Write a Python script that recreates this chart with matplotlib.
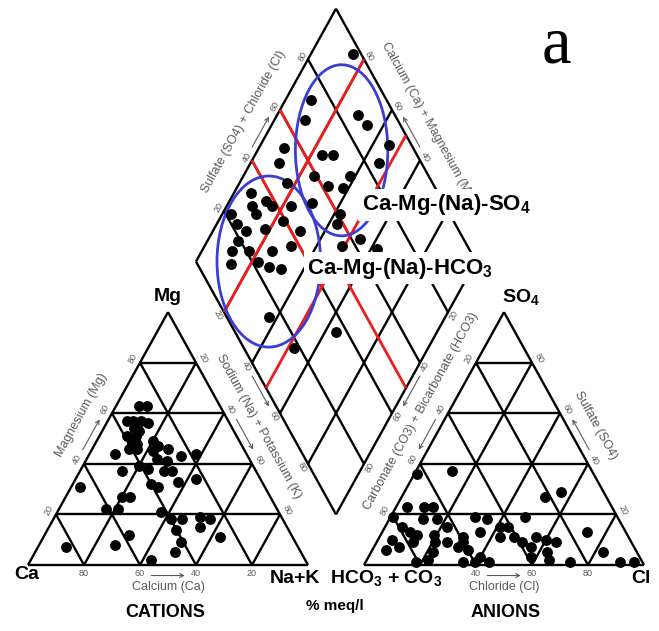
# Piper diagram: cations, anions and the central diamond
import matplotlib
matplotlib.use('Agg')
import matplotlib.pyplot as plt
from matplotlib.patches import Ellipse
import numpy as np

plt.rcParams['mathtext.fontset'] = 'custom'
plt.rcParams['mathtext.rm'] = 'Liberation Sans:bold'
plt.rcParams['mathtext.it'] = 'Liberation Sans:bold'
plt.rcParams['mathtext.bf'] = 'Liberation Sans:bold'

# ---- samples (% meq/l) ----
cat_mg = [63, 63, 57, 57, 57, 56, 54, 53, 51, 51, 48, 48, 49, 46, 46, 44, 47, 46, 45, 43,
          44, 42, 41, 39, 38, 37, 37, 37, 33, 34, 31, 32, 31, 27, 27, 22, 22, 21, 18, 18,
          19, 18, 12, 14, 15, 11, 7, 8, 9, 5, 2]
cat_nak = [8, 11, 7, 9, 12, 15, 11, 13, 10, 13, 13, 15, 20, 13, 16, 9, 23, 27, 22, 33,
           38, 25, 29, 20, 24, 15, 30, 33, 37, 43, 3, 28, 31, 20, 23, 17, 21, 37, 42, 46,
           52, 56, 30, 46, 54, 63, 10, 27, 50, 50, 43]

an_so4 = [36, 37, 23, 23, 23, 19, 18, 18, 19, 18, 19, 27, 29, 15, 13, 12, 10, 7, 9, 6,
          12, 15, 9, 9, 7, 11, 9, 6, 5, 1, 2, 1, 1, 3, 1, 13, 15, 15, 11, 11,
          9, 7, 11, 3, 5, 10, 9, 2, 1, 13, 5, 1, 1]
an_cl = [1, 13, 4, 10, 13, 1, 12, 17, 30, 35, 48, 51, 56, 6, 10, 13, 5, 9, 13, 5,
         19, 22, 21, 25, 30, 30, 31, 34, 22, 18, 22, 35, 39, 40, 44, 35, 41, 44, 43, 48,
         52, 56, 56, 58, 63, 60, 64, 65, 73, 73, 83, 91, 96]

dia_camg = [85, 91, 89, 71, 66, 54, 91, 90, 76, 72, 54, 75, 62, 83, 68, 62, 94, 91, 87, 88,
            84, 70, 77, 97, 93, 88, 89, 82, 77, 69, 58, 57, 46, 51, 38, 89, 83, 75, 69, 87,
            78, 73, 68, 63, 48, 36]
dia_so4cl = [97, 73, 67, 87, 88, 92, 54, 49, 66, 70, 85, 59, 72, 48, 62, 67, 33, 31, 37, 31,
             38, 53, 45, 22, 22, 24, 19, 31, 39, 43, 61, 58, 63, 55, 67, 15, 21, 29, 37, 12,
             22, 25, 29, 15, 18, 36]

# facies boundaries in the diamond: (Ca+Mg, SO4+Cl) start -> end
red_lines = [((80, 0), (80, 100)),
             ((50, 0), (50, 100)),
             ((50, 50), (0, 50)),
             ((100, 40), (50, 40)),
             ((100, 60), (50, 60))]

# sample groups: centre (Ca+Mg, SO4+Cl), width, height
groups = [((70, 74), 0.33, 0.586),
          ((74, 26), 0.37, 0.586)]

ticks = [20, 40, 60, 80]

H = np.sqrt(3) / 2
GAP = 0.2


def cat_xy(mg, nak):
    mg = np.asarray(mg) / 100.0
    nak = np.asarray(nak) / 100.0
    return nak + 0.5 * mg, H * mg


def an_xy(so4, cl):
    so4 = np.asarray(so4) / 100.0
    cl = np.asarray(cl) / 100.0
    return 1 + GAP + cl + 0.5 * so4, H * so4


def dia_xy(a, b):
    a = np.asarray(a) / 100.0
    b = np.asarray(b) / 100.0
    return 1 + GAP / 2 - 0.5 * a + 0.5 * b, GAP * H + H * a + H * b


fig = plt.figure(figsize=(6.59, 6.31), dpi=100)
ax = fig.add_axes([0, 0, 1, 1])
ax.set_xlim(-0.1, 2.2536)
ax.set_ylim(-0.226, 1.935)
ax.axis('off')


def seg(f, p0, p1, **kw):
    x0, y0 = f(*p0)
    x1, y1 = f(*p1)
    ax.plot([x0, x1], [y0, y1], solid_capstyle='butt', **kw)


grid = dict(color='black', lw=1.7, zorder=1)

#################################################################
# 1. grids, facies lines, groups
for v in [0] + ticks:
    seg(cat_xy, (v, 0), (v, 100 - v), **grid)
    seg(cat_xy, (0, v), (100 - v, v), **grid)
    seg(cat_xy, (0, 100 - v), (100 - v, 0), **grid)
    seg(an_xy, (v, 0), (v, 100 - v), **grid)
    seg(an_xy, (0, v), (100 - v, v), **grid)
    seg(an_xy, (0, 100 - v), (100 - v, 0), **grid)
for v in [0] + ticks + [100]:
    seg(dia_xy, (v, 0), (v, 100), **grid)
    seg(dia_xy, (0, v), (100, v), **grid)

for p0, p1 in red_lines:
    seg(dia_xy, p0, p1, color='#ee1c1c', lw=2.0, zorder=2)

for (ca, cb), w, h in groups:
    cx, cy = dia_xy(ca, cb)
    ax.add_patch(Ellipse((cx, cy), w, h, fill=False, ec='#3a3ed2', lw=2.0, zorder=3))

#################################################################
# 2. samples
ax.scatter(*cat_xy(cat_mg, cat_nak), s=46, c='black', zorder=4)
ax.scatter(*an_xy(an_so4, an_cl), s=46, c='black', zorder=4)
ax.scatter(*dia_xy(dia_camg, dia_so4cl), s=46, c='black', zorder=4)

#################################################################
# 3. tick labels, axis names and arrows
grey = '#5a5a5a'
tk = dict(fontsize=6.5, color=grey, ha='center', va='center', family='Liberation Sans')
nm = dict(fontsize=9, color=grey, ha='center', va='center', family='Liberation Sans')
NL = np.array([-H, 0.5])
NR = np.array([H, 0.5])
NBL = np.array([-H, -0.5])
NBR = np.array([H, -0.5])
DOWN = np.array([0, -1])
DT, DN = 0.028, 0.09

# on-screen slope of the triangle sides (axes are not square)
d = ax.transData.transform([cat_xy(100, 0)]) - ax.transData.transform([cat_xy(0, 0)])
r60 = np.degrees(np.arctan2(d[0][1], d[0][0]))


def put(f, p, n, dist, text, rot, style):
    x, y = f(*p)
    ax.text(x + n[0] * dist, y + n[1] * dist, text, rotation=rot, **style)


def arrow(f, p0, p1, n, dist):
    x0, y0 = f(*p0)
    x1, y1 = f(*p1)
    ax.annotate('', xy=(x1 + n[0] * dist, y1 + n[1] * dist),
                xytext=(x0 + n[0] * dist, y0 + n[1] * dist),
                arrowprops=dict(arrowstyle='->', color=grey, lw=0.8, shrinkA=0, shrinkB=0,
                                mutation_scale=7))


for v in ticks:
    put(cat_xy, (0, 100 - v), DOWN, DT, str(v), 0, tk)
    put(cat_xy, (v, 0), NL, DT, str(v), r60, tk)
    put(cat_xy, (100 - v, v), NR, DT, str(v), -r60, tk)
    if v > 20:  # the 20 sits under the HCO3 + CO3 corner label
        put(an_xy, (0, v), DOWN, DT, str(v), 0, tk)
    put(an_xy, (100 - v, 0), NL, DT, str(v), r60, tk)
    put(an_xy, (v, 100 - v), NR, DT, str(v), -r60, tk)
    put(dia_xy, (100, v), NL, DT * 0.8, str(v), r60, tk)
    put(dia_xy, (v, 100), NR, DT * 0.8, str(v), -r60, tk)
    put(dia_xy, (100 - v, 0), NBL, DT * 0.8, str(v), -r60, tk)
    put(dia_xy, (0, 100 - v), NBR, DT * 0.8, str(v), r60, tk)

arrow(cat_xy, (0, 44), (0, 56), DOWN, 0.036)
arrow(cat_xy, (44, 0), (56, 0), NL, DT)
arrow(cat_xy, (56, 44), (44, 56), NR, DT)
arrow(an_xy, (0, 44), (0, 56), DOWN, 0.036)
arrow(an_xy, (56, 0), (44, 0), NL, DT)
arrow(an_xy, (44, 56), (56, 44), NR, DT)
arrow(dia_xy, (100, 44), (100, 56), NL, DT * 0.8)
arrow(dia_xy, (44, 100), (56, 100), NR, DT * 0.8)
arrow(dia_xy, (56, 0), (44, 0), NBL, DT * 0.8)
arrow(dia_xy, (0, 56), (0, 44), NBR, DT * 0.8)

put(cat_xy, (0, 50), DOWN, 0.075, 'Calcium (Ca)', 0, nm)
put(an_xy, (0, 50), DOWN, 0.075, 'Chloride (Cl)', 0, nm)
put(cat_xy, (54, 0), NL, DN, 'Magnesium (Mg)', r60, nm)
put(cat_xy, (50, 50), NR, GAP * H / 2, 'Sodium (Na) + Potassium (K)', -r60, nm)
put(an_xy, (56, 0), NL, GAP * H / 2, 'Carbonate (CO3) + Bicarbonate (HCO3)', r60, nm)
put(an_xy, (50, 50), NR, DN, 'Sulfate (SO4)', -r60, nm)
put(dia_xy, (100, 50), NL, DN, 'Sulfate (SO4) + Chloride (Cl)', r60, nm)
put(dia_xy, (50, 100), NR, DN, 'Calcium (Ca) + Magnesium (Mg)', -r60, nm)

#################################################################
# 4. corner labels and titles
bold = dict(family='Liberation Sans', fontweight='bold', ha='center', va='center')
ax.text(0.5, 0.918, 'Mg', fontsize=14, **bold)
ax.text(-0.005, -0.034, 'Ca', fontsize=14, **bold)
ax.text(0.955, -0.045, 'Na+K', fontsize=14, **bold)
ax.text(1.28, -0.045, r'HCO$_3$ + CO$_3$', fontsize=14, **bold)
ax.text(2.19, -0.045, 'Cl', fontsize=14, **bold)
ax.text(1.761, 0.918, r'SO$_4$', fontsize=14, **bold)
ax.text(0.489, -0.161, 'CATIONS', fontsize=13, **bold)
ax.text(1.704, -0.161, 'ANIONS', fontsize=13, **bold)
ax.text(1.096, -0.14, '% meq/l', fontsize=11, **bold)

box = dict(facecolor='white', edgecolor='none', pad=2.5)
ax.text(1.493, 1.233, r'Ca-Mg-(Na)-SO$_4$', fontsize=16, bbox=box, zorder=6, **bold)
ax.text(1.329, 1.017, r'Ca-Mg-(Na)-HCO$_3$', fontsize=16, bbox=box, zorder=6, **bold)

ax.text(1.889, 1.777, 'a', fontsize=48, family='Liberation Serif', ha='center', va='center')

plt.savefig('out.png', dpi=100)
plt.close()
